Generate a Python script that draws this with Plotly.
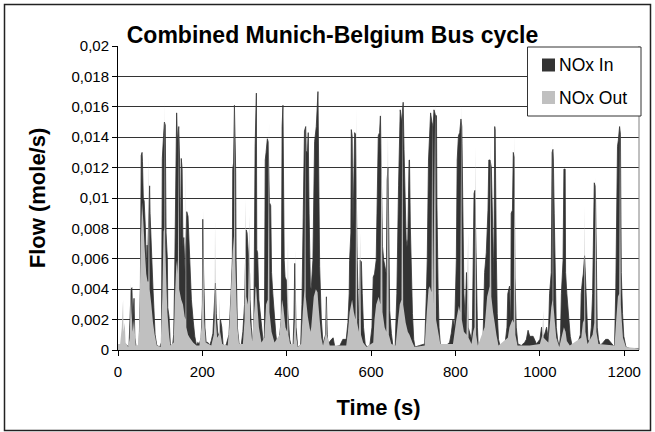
import plotly.graph_objects as go

# NOx flow over the combined Munich-Belgium bus cycle: (time s, flow mole/s)
NOX_IN = [
    (0, 0.0003), (8, 0.0003), (12, 0.0005), (26, 0.0002), (31, 0.0040), (33, 0.0041),
    (35, 0.0020), (38, 0.0034), (40, 0.0008), (43, 0.0002), (50, 0.0003), (53, 0.0040),
    (55, 0.0128), (57, 0.0130), (58, 0.0124), (60, 0.0100), (62, 0.0098), (65, 0.0080),
    (67, 0.0052), (69, 0.0069), (70, 0.0058), (73, 0.0100), (75, 0.0108), (76, 0.0090),
    (79, 0.0063), (80, 0.0068), (83, 0.0040), (85, 0.0028), (88, 0.0010), (92, 0.0003),
    (99, 0.0002), (103, 0.0005), (105, 0.0126), (108, 0.0141), (110, 0.0150), (112, 0.0148),
    (114, 0.0077), (117, 0.0060), (118, 0.0028), (121, 0.0022), (124, 0.0004), (129, 0.0002),
    (132, 0.0010), (134, 0.0042), (137, 0.0123), (139, 0.0156), (141, 0.0137), (144, 0.0147),
    (146, 0.0125), (148, 0.0062), (150, 0.0126), (152, 0.0119), (154, 0.0068), (156, 0.0074),
    (159, 0.0051), (161, 0.0070), (163, 0.0091), (166, 0.0088), (168, 0.0072), (171, 0.0048),
    (174, 0.0033), (178, 0.0020), (182, 0.0009), (186, 0.0003), (189, 0.0005), (193, 0.0004),
    (197, 0.0008), (200, 0.0030), (201, 0.0086), (203, 0.0050), (204, 0.0037), (206, 0.0015),
    (209, 0.0005), (213, 0.0005), (217, 0.0003), (221, 0.0006), (225, 0.0011), (229, 0.0033),
    (231, 0.0044), (233, 0.0024), (237, 0.0009), (241, 0.0012), (243, 0.0020), (246, 0.0015),
    (249, 0.0004), (253, 0.0002), (257, 0.0004), (263, 0.0010), (266, 0.0025), (268, 0.0037),
    (271, 0.0059), (272, 0.0119), (274, 0.0123), (276, 0.0161), (279, 0.0117), (280, 0.0059),
    (283, 0.0015), (287, 0.0004), (292, 0.0003), (296, 0.0012), (300, 0.0030), (302, 0.0060),
    (304, 0.0079), (306, 0.0077), (309, 0.0059), (312, 0.0050), (313, 0.0033), (316, 0.0015),
    (320, 0.0004), (322, 0.0015), (325, 0.0134), (326, 0.0158), (328, 0.0169), (329, 0.0066),
    (331, 0.0064), (334, 0.0033), (337, 0.0024), (342, 0.0007), (345, 0.0003), (347, 0.0010),
    (349, 0.0125), (351, 0.0130), (354, 0.0139), (356, 0.0137), (358, 0.0120), (359, 0.0097),
    (362, 0.0095), (364, 0.0051), (367, 0.0037), (370, 0.0024), (374, 0.0011), (377, 0.0003),
    (383, 0.0009), (387, 0.0020), (389, 0.0147), (391, 0.0161), (392, 0.0115), (394, 0.0059),
    (396, 0.0048), (399, 0.0046), (401, 0.0031), (404, 0.0020), (407, 0.0007), (411, 0.0002),
    (415, 0.0003), (417, 0.0020), (419, 0.0057), (421, 0.0030), (422, 0.0015), (426, 0.0002),
    (433, 0.0003), (436, 0.0030), (438, 0.0080), (440, 0.0110), (442, 0.0144), (445, 0.0147),
    (446, 0.0131), (449, 0.0130), (451, 0.0143), (453, 0.0090), (456, 0.0042), (458, 0.0040),
    (462, 0.0059), (466, 0.0137), (470, 0.0147), (474, 0.0170), (477, 0.0060), (478, 0.0055),
    (482, 0.0020), (486, 0.0004), (492, 0.0010), (494, 0.0035), (496, 0.0010), (498, 0.0004),
    (506, 0.0007), (510, 0.0008), (514, 0.0002), (526, 0.0003), (533, 0.0007), (541, 0.0007),
    (545, 0.0018), (548, 0.0037), (549, 0.0059), (552, 0.0077), (553, 0.0145), (555, 0.0141),
    (557, 0.0081), (561, 0.0143), (563, 0.0142), (565, 0.0081), (567, 0.0059), (571, 0.0015),
    (573, 0.0030), (574, 0.0059), (577, 0.0058), (579, 0.0037), (582, 0.0015), (586, 0.0004),
    (590, 0.0002), (597, 0.0003), (602, 0.0015), (605, 0.0048), (608, 0.0050), (612, 0.0059),
    (615, 0.0112), (617, 0.0141), (620, 0.0143), (622, 0.0154), (623, 0.0136), (627, 0.0068),
    (630, 0.0059), (633, 0.0055), (636, 0.0050), (638, 0.0112), (640, 0.0120), (642, 0.0077),
    (644, 0.0026), (648, 0.0011), (652, 0.0002), (657, 0.0003), (661, 0.0037), (665, 0.0108),
    (667, 0.0152), (669, 0.0158), (672, 0.0150), (674, 0.0155), (676, 0.0163), (678, 0.0132),
    (680, 0.0096), (683, 0.0073), (685, 0.0068), (687, 0.0073), (690, 0.0125), (691, 0.0125),
    (693, 0.0081), (695, 0.0055), (698, 0.0024), (701, 0.0007), (704, 0.0002), (715, 0.0003),
    (727, 0.0004), (731, 0.0037), (733, 0.0059), (736, 0.0125), (739, 0.0147), (741, 0.0156),
    (744, 0.0150), (747, 0.0147), (749, 0.0158), (752, 0.0155), (755, 0.0154), (756, 0.0096),
    (759, 0.0037), (761, 0.0015), (764, 0.0004), (769, 0.0002), (778, 0.0003), (786, 0.0005),
    (790, 0.0011), (794, 0.0020), (798, 0.0015), (802, 0.0059), (804, 0.0125), (807, 0.0141),
    (810, 0.0143), (813, 0.0152), (815, 0.0147), (818, 0.0081), (820, 0.0037), (823, 0.0020),
    (826, 0.0051), (828, 0.0037), (830, 0.0015), (834, 0.0011), (838, 0.0007), (840, 0.0015),
    (842, 0.0059), (844, 0.0103), (846, 0.0105), (849, 0.0051), (852, 0.0015), (854, 0.0002),
    (861, 0.0005), (865, 0.0003), (869, 0.0051), (873, 0.0064), (877, 0.0092), (879, 0.0125),
    (882, 0.0125), (885, 0.0120), (887, 0.0094), (891, 0.0046), (893, 0.0147), (894, 0.0145),
    (897, 0.0059), (899, 0.0024), (902, 0.0007), (906, 0.0002), (917, 0.0003), (922, 0.0015),
    (924, 0.0037), (928, 0.0042), (931, 0.0015), (932, 0.0090), (935, 0.0092), (937, 0.0130),
    (939, 0.0127), (941, 0.0048), (944, 0.0015), (948, 0.0004), (956, 0.0003), (964, 0.0005),
    (968, 0.0007), (972, 0.0013), (976, 0.0009), (984, 0.0009), (992, 0.0004), (1000, 0.0007),
    (1004, 0.0015), (1006, 0.0008), (1012, 0.0011), (1016, 0.0015), (1020, 0.0007), (1023, 0.0037),
    (1027, 0.0051), (1029, 0.0130), (1031, 0.0132), (1032, 0.0125), (1034, 0.0090), (1036, 0.0048),
    (1039, 0.0015), (1042, 0.0007), (1046, 0.0002), (1049, 0.0010), (1051, 0.0037), (1055, 0.0059),
    (1057, 0.0119), (1060, 0.0119), (1061, 0.0051), (1064, 0.0037), (1067, 0.0024), (1069, 0.0015),
    (1072, 0.0009), (1077, 0.0002), (1088, 0.0003), (1096, 0.0010), (1098, 0.0037), (1101, 0.0046),
    (1103, 0.0050), (1106, 0.0062), (1108, 0.0048), (1110, 0.0024), (1114, 0.0007), (1118, 0.0004),
    (1122, 0.0015), (1125, 0.0037), (1127, 0.0081), (1129, 0.0110), (1131, 0.0108), (1132, 0.0100),
    (1134, 0.0059), (1136, 0.0015), (1139, 0.0007), (1143, 0.0003), (1150, 0.0005), (1156, 0.0007),
    (1162, 0.0007), (1170, 0.0004), (1177, 0.0002), (1180, 0.0041), (1182, 0.0081), (1184, 0.0134),
    (1186, 0.0138), (1189, 0.0147), (1191, 0.0142), (1193, 0.0051), (1196, 0.0024), (1199, 0.0009),
    (1204, 0.0002), (1213, 0.0001), (1234, 0.0001),
]

NOX_OUT = [
    (0, 0.0004), (5, 0.0004), (9, 0.0015), (12, 0.0033), (13, 0.0012), (16, 0.0018),
    (18, 0.0005), (24, 0.0002), (28, 0.0008), (30, 0.0044), (32, 0.0025), (35, 0.0012),
    (38, 0.0020), (42, 0.0003), (47, 0.0003), (50, 0.0012), (51, 0.0026), (54, 0.0070),
    (57, 0.0097), (60, 0.0085), (63, 0.0068), (67, 0.0050), (70, 0.0045), (72, 0.0045),
    (73, 0.0129), (75, 0.0040), (79, 0.0030), (83, 0.0018), (87, 0.0010), (92, 0.0003),
    (101, 0.0002), (105, 0.0035), (108, 0.0078), (110, 0.0080), (111, 0.0165), (112, 0.0070),
    (114, 0.0050), (117, 0.0025), (121, 0.0010), (124, 0.0003), (132, 0.0005), (135, 0.0035),
    (138, 0.0055), (140, 0.0059), (142, 0.0050), (143, 0.0150), (145, 0.0040), (150, 0.0033),
    (154, 0.0030), (158, 0.0022), (160, 0.0020), (161, 0.0122), (162, 0.0015), (166, 0.0010),
    (170, 0.0008), (178, 0.0005), (186, 0.0003), (193, 0.0003), (198, 0.0015), (200, 0.0035),
    (202, 0.0092), (204, 0.0020), (208, 0.0005), (221, 0.0003), (227, 0.0010), (229, 0.0020),
    (230, 0.0085), (232, 0.0020), (235, 0.0008), (239, 0.0010), (241, 0.0034), (242, 0.0012),
    (247, 0.0004), (260, 0.0003), (264, 0.0015), (268, 0.0040), (272, 0.0065), (275, 0.0075),
    (277, 0.0164), (278, 0.0060), (280, 0.0040), (283, 0.0015), (287, 0.0004), (296, 0.0004),
    (300, 0.0020), (302, 0.0099), (304, 0.0035), (308, 0.0030), (312, 0.0089), (313, 0.0020),
    (318, 0.0006), (324, 0.0030), (326, 0.0042), (328, 0.0040), (329, 0.0035), (334, 0.0015),
    (340, 0.0005), (347, 0.0008), (351, 0.0030), (355, 0.0033), (358, 0.0150), (359, 0.0025),
    (364, 0.0012), (371, 0.0005), (383, 0.0010), (387, 0.0025), (389, 0.0033), (392, 0.0028),
    (397, 0.0015), (401, 0.0012), (403, 0.0073), (404, 0.0010), (408, 0.0004), (416, 0.0004),
    (419, 0.0020), (420, 0.0066), (422, 0.0010), (426, 0.0002), (434, 0.0004), (438, 0.0025),
    (442, 0.0040), (444, 0.0150), (445, 0.0035), (450, 0.0022), (456, 0.0012), (458, 0.0015),
    (464, 0.0035), (469, 0.0040), (473, 0.0038), (475, 0.0030), (478, 0.0020), (482, 0.0008),
    (486, 0.0003), (492, 0.0010), (494, 0.0035), (495, 0.0010), (502, 0.0003), (541, 0.0003),
    (545, 0.0012), (549, 0.0025), (555, 0.0033), (559, 0.0025), (563, 0.0020), (565, 0.0159),
    (567, 0.0018), (571, 0.0012), (574, 0.0077), (576, 0.0010), (581, 0.0005), (589, 0.0002),
    (605, 0.0005), (608, 0.0020), (612, 0.0030), (618, 0.0035), (622, 0.0030), (625, 0.0161),
    (627, 0.0025), (632, 0.0015), (636, 0.0012), (640, 0.0143), (642, 0.0010), (648, 0.0004),
    (658, 0.0003), (664, 0.0020), (668, 0.0030), (672, 0.0033), (674, 0.0166), (676, 0.0030),
    (682, 0.0018), (687, 0.0012), (691, 0.0010), (698, 0.0005), (703, 0.0002), (727, 0.0003),
    (732, 0.0025), (736, 0.0040), (739, 0.0042), (743, 0.0038), (745, 0.0161), (747, 0.0030),
    (752, 0.0163), (754, 0.0020), (759, 0.0012), (764, 0.0004), (794, 0.0004), (802, 0.0020),
    (808, 0.0029), (811, 0.0025), (814, 0.0163), (815, 0.0020), (820, 0.0012), (826, 0.0010),
    (830, 0.0077), (831, 0.0008), (838, 0.0004), (842, 0.0012), (845, 0.0015), (847, 0.0134),
    (849, 0.0010), (853, 0.0003), (869, 0.0015), (875, 0.0035), (881, 0.0042), (883, 0.0138),
    (885, 0.0035), (889, 0.0025), (893, 0.0018), (897, 0.0010), (902, 0.0003), (924, 0.0008),
    (928, 0.0015), (935, 0.0020), (938, 0.0018), (940, 0.0143), (942, 0.0010), (947, 0.0003),
    (976, 0.0003), (1000, 0.0004), (1006, 0.0010), (1008, 0.0026), (1009, 0.0008), (1020, 0.0005),
    (1023, 0.0015), (1027, 0.0028), (1030, 0.0033), (1031, 0.0140), (1032, 0.0030), (1035, 0.0020),
    (1039, 0.0008), (1046, 0.0002), (1051, 0.0008), (1057, 0.0015), (1061, 0.0012), (1064, 0.0006),
    (1071, 0.0003), (1098, 0.0008), (1102, 0.0018), (1105, 0.0020), (1106, 0.0095), (1108, 0.0012),
    (1113, 0.0004), (1125, 0.0010), (1129, 0.0018), (1132, 0.0114), (1134, 0.0012), (1139, 0.0004),
    (1177, 0.0003), (1181, 0.0020), (1185, 0.0035), (1188, 0.0037), (1190, 0.0152), (1192, 0.0030),
    (1194, 0.0020), (1197, 0.0008), (1204, 0.0002), (1234, 0.0001),
]

SERIES_NAMES = ["NOx In", "NOx Out"]
SERIES_COLORS = ["#333333", "#c0c0c0"]
EDGE_WIDTHS = [0.8, 0]

X_TICKS = [0, 200, 400, 600, 800, 1000, 1200]
Y_TICKS = [0, 0.002, 0.004, 0.006, 0.008, 0.01, 0.012, 0.014, 0.016, 0.018, 0.02]
Y_TICK_TEXT = ["0", "0,002", "0,004", "0,006", "0,008", "0,01", "0,012",
               "0,014", "0,016", "0,018", "0,02"]

TITLE = "Combined Munich-Belgium Bus cycle"
X_TITLE = "Time (s)"
Y_TITLE = "Flow (mole/s)"

W, H = 655, 432
L, R, T, B = 118, 16, 46, 82
PW, PH = W - L - R, H - T - B
FONT = "Liberation Sans, Arial, sans-serif"


def px_x(px):
    return (px - L) / PW


def px_y(py):
    return (H - B - py) / PH


fig = go.Figure()
for pts, name, color, lw in zip([NOX_IN, NOX_OUT], SERIES_NAMES, SERIES_COLORS, EDGE_WIDTHS):
    fig.add_trace(go.Scatter(
        x=[p[0] for p in pts], y=[p[1] for p in pts],
        name=name, mode="lines" if lw > 0 else "none", fill="tozeroy",
        line=dict(color=color, width=lw), fillcolor=color,
        showlegend=False,
    ))

shapes = [
    # right edge of plot area
    dict(type="line", xref="paper", yref="paper", x0=1, x1=1, y0=0, y1=1,
         line=dict(color="#808080", width=1)),
    # outer chart frame
    dict(type="rect", xref="paper", yref="paper",
         x0=px_x(4.5), x1=px_x(650.5), y0=px_y(430.5), y1=px_y(4.5),
         line=dict(color="#222222", width=1.5), layer="above"),
    # legend box
    dict(type="rect", xref="paper", yref="paper",
         x0=px_x(527.5), x1=px_x(641), y0=px_y(116), y1=px_y(47),
         line=dict(color="#333333", width=1), fillcolor="white", layer="above"),
]
annotations = []
for i, (name, color) in enumerate(zip(SERIES_NAMES, SERIES_COLORS)):
    cy = 65 + i * 32.5
    shapes.append(dict(type="rect", xref="paper", yref="paper",
                       x0=px_x(542), x1=px_x(555), y0=px_y(cy + 6.5), y1=px_y(cy - 6.5),
                       line=dict(width=0), fillcolor=color, layer="above"))
    annotations.append(dict(xref="paper", yref="paper", x=px_x(557), y=px_y(cy),
                            xanchor="left", yanchor="middle", showarrow=False,
                            text=name, font=dict(family=FONT, size=17.5, color="black")))

fig.update_layout(
    width=W, height=H,
    margin=dict(l=L, r=R, t=T, b=B, autoexpand=False),
    paper_bgcolor="white", plot_bgcolor="white",
    font=dict(family=FONT, color="black"),
    title=dict(text="<b>" + TITLE + "</b>", xref="container", yref="container",
               x=332.5 / W, y=1 - 34.5 / H, xanchor="center", yanchor="middle",
               font=dict(family=FONT, size=23, color="black")),
    xaxis=dict(range=[0, 1235], tickvals=X_TICKS, ticks="outside", ticklen=5,
               tickcolor="black", showline=True, linecolor="black", linewidth=1,
               showgrid=False, zeroline=False, ticklabelstandoff=3,
               tickfont=dict(family=FONT, size=15, color="black"),
               title=dict(text="<b>" + X_TITLE + "</b>", standoff=20,
                          font=dict(family=FONT, size=22, color="black"))),
    yaxis=dict(range=[0, 0.02], tickvals=Y_TICKS, ticktext=Y_TICK_TEXT,
               ticks="outside", ticklen=5, tickcolor="black",
               showline=True, linecolor="black", linewidth=1,
               showgrid=True, gridcolor="#333333", gridwidth=1, zeroline=False,
               tickfont=dict(family=FONT, size=15, color="black"),
               title=dict(text="<b>" + Y_TITLE + "</b>", standoff=19,
                          font=dict(family=FONT, size=22, color="black"))),
    shapes=shapes, annotations=annotations,
)

fig.write_html("out.html")
